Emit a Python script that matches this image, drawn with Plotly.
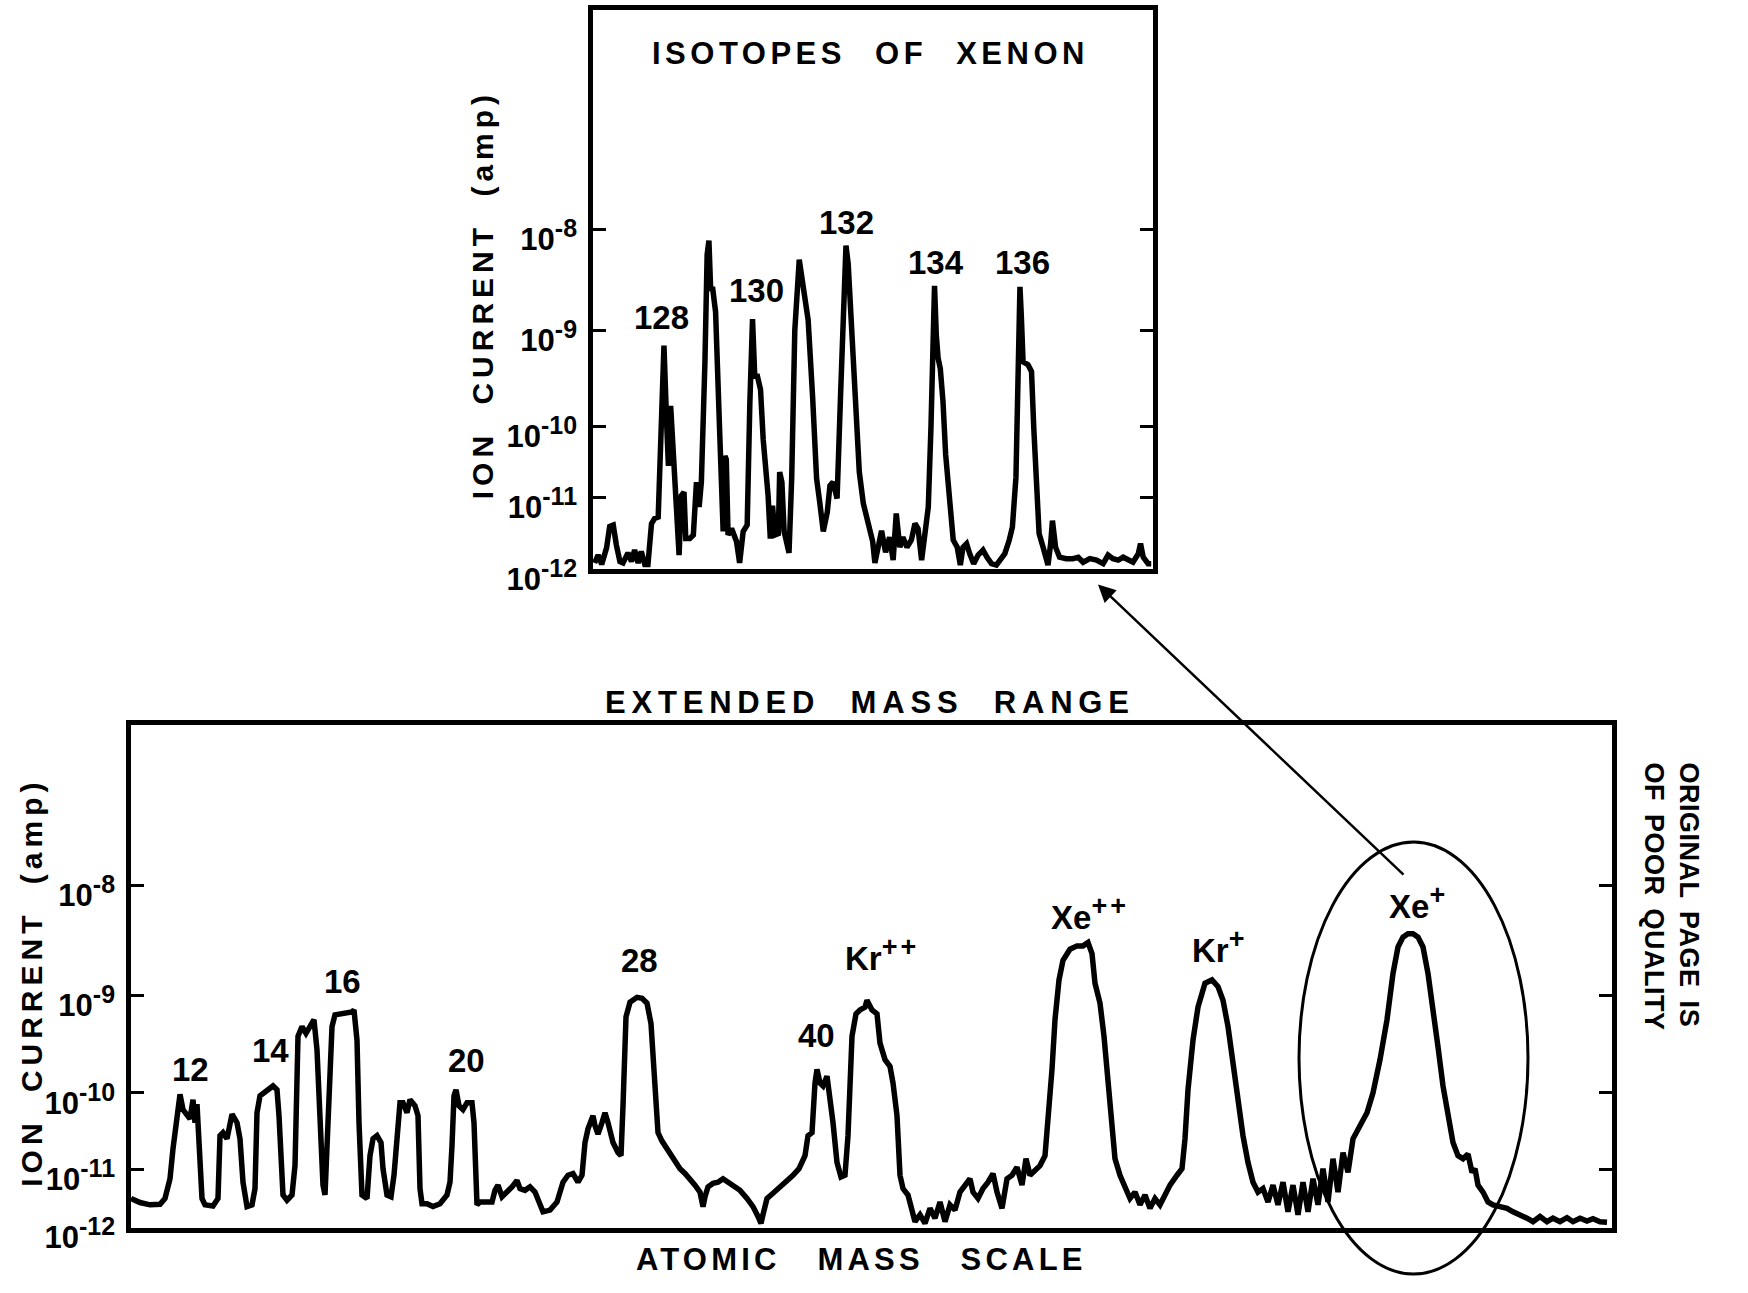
import numpy as np
import plotly.graph_objects as go

PAGE_W, PAGE_H = 1748, 1293          # reference geometry (pixels)
W = PAGE_W
H = 1309                              # figure height (compensates the capture's vertical scaling)
FONT = "Liberation Sans"

# ---------------- DATA ----------------
# Upper panel: isotopes of xenon (x = mass number, y = log10 ion current [A])
iso_mass = [126.44, 126.52, 126.60, 126.71, 126.78, 126.86, 126.93, 127.01, 127.08, 127.19,
            127.27, 127.34, 127.42, 127.49, 127.57, 127.64, 127.72, 127.79, 127.87, 127.94,
            128.00, 128.06, 128.10, 128.15, 128.21, 128.28, 128.34, 128.39, 128.45, 128.49,
            128.58, 128.66, 128.73, 128.79, 128.84, 128.92, 128.97, 129.01, 129.05, 129.09,
            129.16, 129.25, 129.33, 129.37, 129.40, 129.44, 129.52, 129.63, 129.70, 129.78,
            129.87, 129.93, 129.99, 130.04, 130.10, 130.17, 130.23, 130.34, 130.39, 130.44,
            130.49, 130.57, 130.60, 130.65, 130.70, 130.81, 130.87, 130.94, 131.04, 131.13,
            131.24, 131.34, 131.43, 131.50, 131.58, 131.67, 131.73, 131.80, 131.89, 131.97,
            132.04, 132.09, 132.14, 132.19, 132.25, 132.33, 132.39, 132.48, 132.59, 132.69,
            132.74, 132.84,
            132.89, 132.98, 133.07, 133.15, 133.22, 133.30, 133.37, 133.46, 133.56, 133.64,
            133.71, 133.79, 133.86, 133.94, 134.00, 134.05, 134.08, 134.12, 134.16, 134.21,
            134.27, 134.33, 134.41, 134.50, 134.59, 134.66, 134.72, 134.80, 134.87, 134.96,
            135.06, 135.17, 135.26, 135.36, 135.47, 135.56, 135.66, 135.76, 135.83, 135.91,
            135.96, 136.00, 136.03, 136.07, 136.18, 136.26, 136.31, 136.37, 136.43, 136.52,
            136.63, 136.69, 136.73, 136.80, 136.89, 137.04, 137.19, 137.31, 137.42, 137.57,
            137.72, 137.87, 137.98, 138.09, 138.21, 138.32, 138.43, 138.54, 138.66, 138.71,
            138.77, 138.88, 138.95]
iso_log_current = [-11.92, -11.81, -11.94, -11.71, -11.41, -11.39, -11.67, -11.90, -11.92, -11.78,
                   -11.90, -11.74, -11.92, -11.76, -11.94, -11.94, -11.37, -11.30, -11.28, -10.00,
                   -9.16, -9.97, -10.56, -9.79, -10.33, -11.12, -11.81, -10.98, -10.93, -11.58,
                   -11.58, -11.53, -10.79, -11.14, -10.79, -9.34, -8.25, -8.11, -8.61, -8.57,
                   -8.82, -10.05, -11.48, -10.42, -10.47, -11.53, -11.44, -11.62, -11.92, -11.48,
                   -11.39, -9.76, -8.89, -9.48, -9.48, -9.62, -10.19, -10.98, -11.58, -11.12,
                   -11.53, -11.51, -10.65, -10.79, -11.48, -11.78, -10.74, -9.00, -8.30, -8.57,
                   -8.90, -9.69, -10.74, -11.07, -11.48, -11.21, -10.84, -10.79, -11.02, -9.66,
                   -8.51, -8.16, -8.34, -8.74, -9.28, -9.83, -10.65, -11.09, -11.35, -11.62,
                   -11.92, -11.58,
                   -11.47, -11.77, -11.56, -11.88, -11.23, -11.70, -11.56, -11.70, -11.60, -11.37,
                   -11.44, -11.88, -11.51, -11.14, -10.02, -8.98, -8.56, -9.05, -9.29, -9.40,
                   -9.74, -10.40, -11.05, -11.60, -11.70, -11.95, -11.70, -11.65, -11.79, -11.93,
                   -11.81, -11.74, -11.84, -11.93, -11.95, -11.88, -11.79, -11.60, -11.42, -10.72,
                   -9.16, -8.57, -8.85, -9.33, -9.36, -9.43, -10.02, -10.95, -11.51, -11.70,
                   -11.95, -11.65, -11.33, -11.70, -11.84, -11.86, -11.86, -11.84, -11.91, -11.86,
                   -11.88, -11.93, -11.81, -11.86, -11.88, -11.84, -11.88, -11.91, -11.79, -11.65,
                   -11.84, -11.93, -11.93]
iso_peak_labels = ["128", "130", "132", "134", "136"]
iso_label_mass = [127.94, 130.08, 132.10, 134.12, 136.06]

# Lower panel: extended mass range (x = position along the mass scan, arbitrary units;
# y = log10 ion current [A])
ext_scan = [0, 9, 19, 29, 34, 39, 42, 46, 49, 52, 56, 59, 62, 64, 66, 69, 71, 74, 82, 87,
            89, 92, 96, 101, 106, 109, 112, 116, 121, 124, 126, 129, 136, 142, 146, 148, 152, 156, 161, 164,
            167, 171, 175, 180, 183, 186, 189, 192, 194, 196, 199, 201, 204, 209, 216, 221, 223, 226, 228, 231,
            236, 239, 242, 246, 250, 252, 256, 260, 263, 266, 269, 272, 276, 279, 284, 287,
            289, 291, 296, 302, 309, 316, 319, 321, 323, 325, 328, 332, 336, 341, 343, 346, 349, 356, 361, 364,
            367, 371, 376, 381, 386, 389, 394, 399, 404, 408, 412, 419, 426, 432, 437, 442, 447, 451, 454, 457,
            462, 464, 467, 471, 474, 477, 482, 487, 490, 492, 495, 499, 506, 511, 516, 520, 522, 525, 527, 531,
            536, 540, 544, 549, 554, 559, 564, 569, 572, 574, 577, 582, 587, 592, 597, 602, 609, 616, 622, 627,
            630, 632, 636, 642, 649, 656, 662, 668,
            674, 677, 681, 684, 686, 689, 692, 696, 699, 702, 706, 710, 714, 717, 721, 725, 729, 734, 736, 741,
            746, 749, 754, 759, 762, 766, 769, 772, 777, 781, 784, 789, 794, 799, 804, 809, 814, 819, 824, 829,
            834, 839, 842, 847, 852, 857, 862, 866, 871, 876, 881, 886, 891, 895, 899, 904, 909, 914, 917, 921,
            924, 928, 932, 939, 946, 952, 957, 961, 964, 969, 973, 977, 981, 984, 989, 994, 999, 1004, 1009, 1014,
            1019, 1024, 1029, 1034,
            1039, 1046, 1051, 1054, 1057, 1062, 1067, 1074, 1081, 1087, 1092, 1097, 1102, 1107, 1112, 1117, 1122, 1127, 1132, 1137,
            1142, 1147, 1152, 1157, 1162, 1167, 1172, 1177, 1182, 1187, 1192, 1197, 1202, 1207, 1212, 1217, 1222, 1229, 1236, 1242,
            1249, 1256, 1262, 1267, 1272, 1277, 1282, 1287, 1292, 1297, 1302, 1307, 1312, 1317, 1322, 1327, 1332, 1337, 1341, 1344,
            1347, 1352, 1357, 1362, 1369, 1376, 1382, 1389, 1396, 1402, 1409, 1416, 1422, 1429, 1436, 1442, 1449, 1456, 1462, 1469,
            1476]
ext_log_current = [-11.50, -11.57, -11.61, -11.60, -11.50, -11.16, -10.73, -10.26, -10.02, -10.22,
                   -10.30, -10.34, -10.09, -10.39, -10.15, -10.73, -11.50, -11.61, -11.63, -11.50,
                   -10.56, -10.52, -10.60, -10.28, -10.39, -10.60, -11.22, -11.64, -11.61, -11.33,
                   -10.26, -10.04, -9.98, -9.93, -9.97, -10.30, -11.44, -11.53, -11.44, -10.95,
                   -9.42, -9.32, -9.39, -9.29, -9.25, -9.56, -10.30, -11.27, -11.44, -10.73,
                   -9.73, -9.32, -9.20, -9.19, -9.19, -9.17, -9.15, -9.46, -10.39, -11.44,
                   -11.50, -10.82, -10.60, -10.56, -10.65, -10.99, -11.44, -11.47, -11.10, -10.52,
                   -10.13, -10.13, -10.26, -10.09, -10.17, -10.30,
                   -11.33, -11.59, -11.59, -11.64, -11.59, -11.44, -11.22, -10.69, -10.04, -9.97,
                   -10.17, -10.22, -10.13, -10.13, -10.39, -11.61, -11.56, -11.56, -11.56, -11.36,
                   -11.27, -11.47, -11.39, -11.30, -11.19, -11.33, -11.36, -11.30, -11.39, -11.59,
                   -11.73, -11.70, -11.56, -11.22, -11.10, -11.07, -11.22, -11.10, -10.65, -10.47,
                   -10.30, -10.43, -10.54, -10.39, -10.26, -10.39, -10.65, -10.78, -10.82, -10.17,
                   -9.22, -9.07, -9.02, -9.03, -9.08, -9.29, -9.63, -10.13, -10.52, -10.63,
                   -10.73, -10.82, -10.91, -10.99, -11.07, -11.16, -11.27, -11.39, -11.64, -11.47,
                   -11.30, -11.24, -11.22, -11.16, -11.22, -11.30, -11.36, -11.50, -11.64, -11.81,
                   -11.93, -11.78, -11.50, -11.41, -11.30, -11.22, -11.10, -10.99,
                   -10.82, -10.56, -10.52, -9.90, -9.76, -9.90, -9.93, -9.83, -10.04, -10.39,
                   -10.91, -11.13, -11.10, -10.56, -9.42, -9.19, -9.15, -9.12, -9.05, -9.15,
                   -9.19, -9.49, -9.66, -9.73, -9.90, -10.30, -11.10, -11.33, -11.44, -11.67,
                   -11.90, -11.78, -11.93, -11.67, -11.84, -11.56, -11.90, -11.61, -11.70, -11.39,
                   -11.27, -11.16, -11.39, -11.50, -11.33, -11.22, -11.07, -11.39, -11.67, -11.16,
                   -11.10, -10.97, -11.27, -10.86, -11.10, -11.02, -10.95, -10.82, -10.39, -9.76,
                   -9.25, -8.86, -8.68, -8.58, -8.55, -8.55, -8.52, -8.62, -8.89, -9.08,
                   -9.42, -9.93, -10.47, -10.86, -11.10, -11.33, -11.50, -11.39, -11.61, -11.44,
                   -11.67, -11.50, -11.61, -11.44,
                   -11.27, -11.10, -10.99, -10.60, -9.97, -9.46, -9.12, -8.89, -8.86, -8.92,
                   -9.05, -9.32, -9.73, -10.13, -10.56, -10.91, -11.22, -11.39, -11.33, -11.56,
                   -11.27, -11.61, -11.22, -11.73, -11.27, -11.78, -11.22, -11.73, -11.16, -11.61,
                   -10.99, -11.56, -10.86, -11.39, -10.78, -11.05, -10.60, -10.43, -10.26, -10.00,
                   -9.66, -9.25, -8.80, -8.56, -8.47, -8.44, -8.44, -8.47, -8.56, -8.80,
                   -9.12, -9.53, -9.93, -10.34, -10.65, -10.82, -10.86, -10.80, -11.05, -10.99,
                   -11.27, -11.39, -11.56, -11.61, -11.64, -11.67, -11.73, -11.78, -11.84, -11.90,
                   -11.81, -11.90, -11.84, -11.90, -11.83, -11.90, -11.84, -11.89, -11.85, -11.90,
                   -11.91]
ext_peak_labels = ["12", "14", "16", "20", "28", "40", "Kr++", "Xe++", "Kr+", "Xe+"]
ext_label_scan = [59, 139, 211, 335, 508, 685, 751, 959, 1088, 1287]

# The recorder's current scale is not uniformly logarithmic: decade marks sit at these
# heights (in axis units) above the baseline of each panel.
decade_exp = [-12, -11, -10, -9, -8]
decade_exp_text = ["-12", "-11", "-10", "-9", "-8"]
iso_decade_pos = [0.0, 72.3, 144.0, 240.7, 342.3]
ext_decade_pos = [0.0, 58.6, 136.0, 234.3, 345.3]

# ---------------- LAYOUT GEOMETRY (reference pixels) ----------------
TOP = dict(l=593, t=10, r=1153, b=574)
EXT = dict(l=131, t=732, r=1612, b=1239)
YS = H / PAGE_H   # vertical pixel factor of the figure


def px(x):
    return x / PAGE_W


def py(y):
    return 1 - y / PAGE_H


def scale(log_i, pos):
    return np.interp(np.asarray(log_i, dtype=float), decade_exp, pos)


def ion_label(lbl):
    # element symbol with a large raised charge sign, as lettered on the original
    if lbl[0].isalpha():
        sym = lbl.rstrip("+")
        chg = lbl[len(sym):]
        return '%s<sup><span style="font-size:27px;letter-spacing:3px">%s</span></sup>' % (sym, chg)
    return lbl


decade_text = ['10<sup><span style="font-size:25px">%s</span></sup>' % e for e in decade_exp_text]

fig = go.Figure()
fig.add_trace(go.Scatter(x=iso_mass, y=scale(iso_log_current, iso_decade_pos),
                         mode="lines", line=dict(color="black", width=5.5),
                         xaxis="x", yaxis="y", showlegend=False, hoverinfo="skip"))
fig.add_trace(go.Scatter(x=ext_scan, y=scale(ext_log_current, ext_decade_pos),
                         mode="lines", line=dict(color="black", width=5.5),
                         xaxis="x2", yaxis="y2", showlegend=False, hoverinfo="skip"))

tickfont = dict(family=FONT, size=31, color="black", weight="bold")


def yaxis_cfg(box, pos):
    return dict(domain=[py(box["b"]), py(box["t"])], range=[0, box["b"] - box["t"]],
                tickmode="array", tickvals=pos, ticktext=decade_text,
                ticks="inside", ticklen=13, tickwidth=3, tickcolor="black",
                showline=True, linewidth=4.5, linecolor="black", mirror="ticks",
                showgrid=False, zeroline=False, tickfont=tickfont, ticklabelstandoff=5,
                ticklabelshift=10, fixedrange=True)


def xaxis_cfg(box, rng):
    return dict(domain=[px(box["l"]), px(box["r"])], range=rng,
                showline=True, linewidth=4.5, linecolor="black", mirror=True,
                showticklabels=False, ticks="", showgrid=False, zeroline=False,
                fixedrange=True)


fig.update_layout(
    width=W, height=H,
    margin=dict(l=0, r=0, t=0, b=0),
    paper_bgcolor="white", plot_bgcolor="white",
    xaxis=xaxis_cfg(TOP, [126.405, 138.99]),
    yaxis=yaxis_cfg(TOP, iso_decade_pos),
    xaxis2=dict(xaxis_cfg(EXT, [0, 1481]), anchor="y2"),
    yaxis2=dict(yaxis_cfg(EXT, ext_decade_pos), anchor="x2"),
    showlegend=False,
)

ann = []
lab_font = dict(family=FONT, size=33, color="black", weight="bold")

iso_label_y = [320, 293, 225, 265, 265]
for t, m, yy in zip(iso_peak_labels, iso_label_mass, iso_label_y):
    ann.append(dict(text=t, x=m, xref="x", y=py(yy), yref="paper", showarrow=False,
                    font=lab_font, xanchor="center", yanchor="middle"))

ext_label_y = [1080, 1060, 991, 1070, 970, 1045, 963, 922, 955, 911]
for t, s, yy in zip(ext_peak_labels, ext_label_scan, ext_label_y):
    ann.append(dict(text=ion_label(t), x=s, xref="x2", y=py(yy), yref="paper",
                    showarrow=False, font=lab_font, xanchor="center", yanchor="middle"))


def spaced(text, ls, ws):
    return '<span style="letter-spacing:%spx;word-spacing:%spx">%s</span>' % (ls, ws, text)


def text_ann(text, x, y, font, angle=0, align="center"):
    return dict(text=text, x=px(x), y=py(y), xref="paper", yref="paper", showarrow=False,
                xanchor="center", yanchor="middle", font=font, textangle=angle, align=align)


title_font = dict(family=FONT, size=31, color="black", weight="bold")
ann.append(text_ann(spaced("ISOTOPES OF XENON", 4.5, 16), 870, 54, title_font))
ann.append(text_ann(spaced("EXTENDED MASS RANGE", 5.8, 16), 870, 709, title_font))
ann.append(text_ann(spaced("ATOMIC MASS SCALE", 4.2, 24), 861, 1271, title_font))
ytitle_font = dict(family=FONT, size=30, color="black", weight="bold")
ann.append(text_ann(spaced("ION CURRENT (amp)", 5, 13), 482, 298, ytitle_font, angle=-90))
ann.append(text_ann(spaced("ION CURRENT (amp)", 5, 13), 32, 992, ytitle_font, angle=-90))

# stamp on the right margin
ann.append(text_ann(spaced("ORIGINAL PAGE IS", 0.5, 5) + "<br>" + spaced("OF POOR QUALITY", 0.5, 5),
                    1671, 905, dict(family=FONT, size=27, color="black", weight="bold"),
                    angle=90, align="left"))

# arrow from the Xe+ peak to the isotope panel (offsets in figure pixels)
ann.append(dict(text="", x=px(1098), y=py(590), xref="paper", yref="paper",
                showarrow=True, ax=1405 - 1098, ay=(878 - 590) * YS, arrowhead=2, arrowsize=1.4,
                arrowwidth=2.5, arrowcolor="black", standoff=0))

fig.update_layout(annotations=ann)

fig.add_shape(type="circle", xref="paper", yref="paper",
              x0=px(1299), x1=px(1528), y0=py(1286), y1=py(850),
              line=dict(color="black", width=3))

# remove the page's default body margin so the figure fills the window exactly
fig.write_html("out.html", config={"displayModeBar": False},
               post_script="document.body.style.margin='0px';"
                           "document.documentElement.style.overflow='hidden';")
